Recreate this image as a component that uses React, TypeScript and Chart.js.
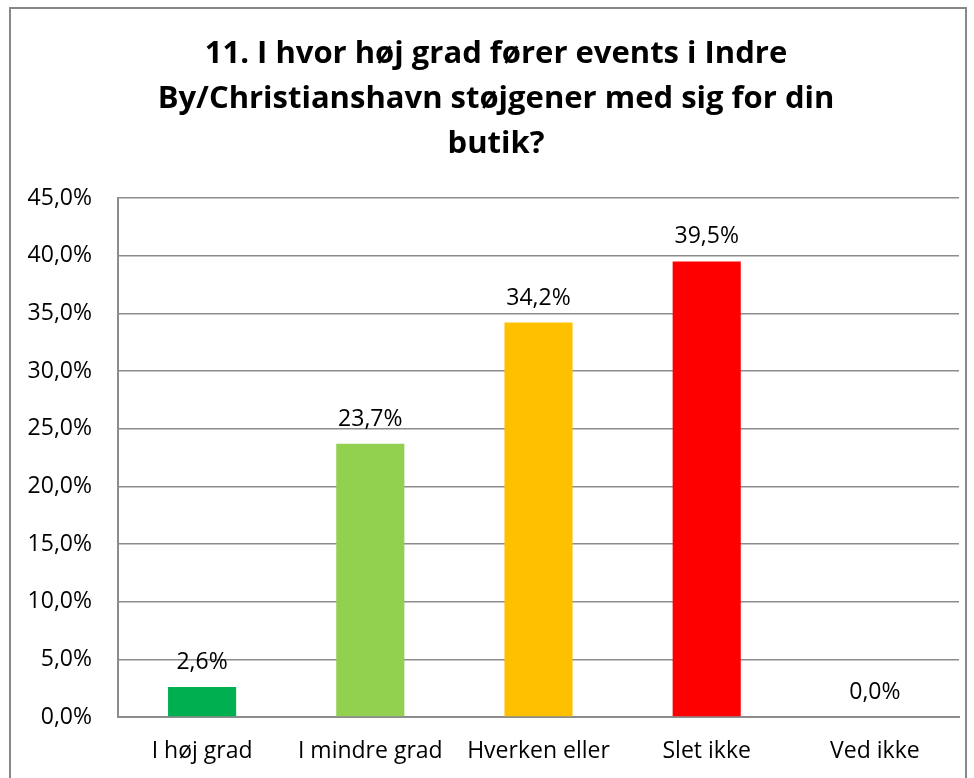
import React, { useEffect, useRef } from "react";
import { Chart, registerables } from "chart.js";

Chart.register(...registerables);

const titleLines = [
  "11. I hvor høj grad fører events i Indre",
  "By/Christianshavn støjgener med sig for din",
  "butik?",
];
const categories = ["I høj grad", "I mindre grad", "Hverken eller", "Slet ikke", "Ved ikke"];
const values = [2.6, 23.7, 34.2, 39.5, 0.0];
const barColors = ["#00B050", "#92D050", "#FFC000", "#FF0000", "#7F7F7F"];
const yMin = 0;
const yMax = 45;
const yStep = 5;

const FONT = "'Open Sans', Lato, sans-serif";
const GRID = "#8c8c8c";

const fmt = (v: number) => v.toFixed(1).replace(".", ",") + "%";

const framePlugin = {
  id: "frame",
  beforeDraw(chart: any) {
    const ctx = chart.ctx;
    ctx.save();
    ctx.fillStyle = "#ffffff";
    ctx.fillRect(0, 0, chart.width, chart.height);
    ctx.strokeStyle = "#878787";
    ctx.lineWidth = 2;
    ctx.strokeRect(10, 8, 956, 800);
    ctx.restore();
  },
};

const titlePlugin = {
  id: "titleLines",
  afterDraw(chart: any) {
    const ctx = chart.ctx;
    ctx.save();
    ctx.fillStyle = "#000000";
    ctx.font = `bold 31px ${FONT}`;
    ctx.textAlign = "center";
    ctx.textBaseline = "alphabetic";
    const cx = 496;
    titleLines.forEach((line, i) => {
      ctx.fillText(line, cx, 63 + i * 45);
    });
    ctx.restore();
  },
};

const labelPlugin = {
  id: "barLabels",
  afterDatasetsDraw(chart: any) {
    const ctx = chart.ctx;
    const meta = chart.getDatasetMeta(0);
    ctx.save();
    ctx.fillStyle = "#000000";
    ctx.font = `23px ${FONT}`;
    ctx.textAlign = "center";
    ctx.textBaseline = "alphabetic";
    meta.data.forEach((bar: any, i: number) => {
      ctx.fillText(fmt(values[i]), bar.x, bar.y - 18);
    });
    ctx.restore();
  },
};

export default function App() {
  const ref = useRef<HTMLCanvasElement>(null);
  useEffect(() => {
    if (!ref.current) return;
    const chart = new Chart(ref.current, {
      type: "bar",
      data: {
        labels: categories,
        datasets: [
          {
            data: values,
            backgroundColor: barColors,
            borderWidth: 0,
            categoryPercentage: 1,
            barPercentage: 0.405,
          },
        ],
      },
      options: {
        animation: false,
        responsive: false,
        maintainAspectRatio: false,
        layout: { padding: { top: 198, right: 15, bottom: 5, left: 0 } },
        plugins: {
          legend: { display: false },
          title: { display: false },
          tooltip: { enabled: false },
        },
        scales: {
          x: {
            afterFit(scale: any) {
              scale.height = 56;
            },
            grid: { display: false, drawTicks: false },
            border: { display: true, color: GRID, width: 2 },
            ticks: {
              color: "#000",
              font: { family: FONT, size: 23 },
              padding: 21,
              maxRotation: 0,
              autoSkip: false,
            },
          },
          y: {
            min: yMin,
            max: yMax,
            afterFit(scale: any) {
              scale.width = 118;
            },
            grid: { color: GRID, lineWidth: 1.5, drawTicks: false },
            border: { display: true, color: GRID, width: 2 },
            ticks: {
              stepSize: yStep,
              color: "#000",
              font: { family: FONT, size: 23 },
              padding: 26,
              callback: (v: any) => fmt(Number(v)),
            },
          },
        },
      },
      plugins: [framePlugin, titlePlugin, labelPlugin],
    });
    return () => chart.destroy();
  }, []);
  return (
    <div style={{ position: "absolute", left: 0, top: 0, width: 974, height: 778 }}>
      <canvas ref={ref} width={974} height={778} style={{ display: "block" }} />
    </div>
  );
}
